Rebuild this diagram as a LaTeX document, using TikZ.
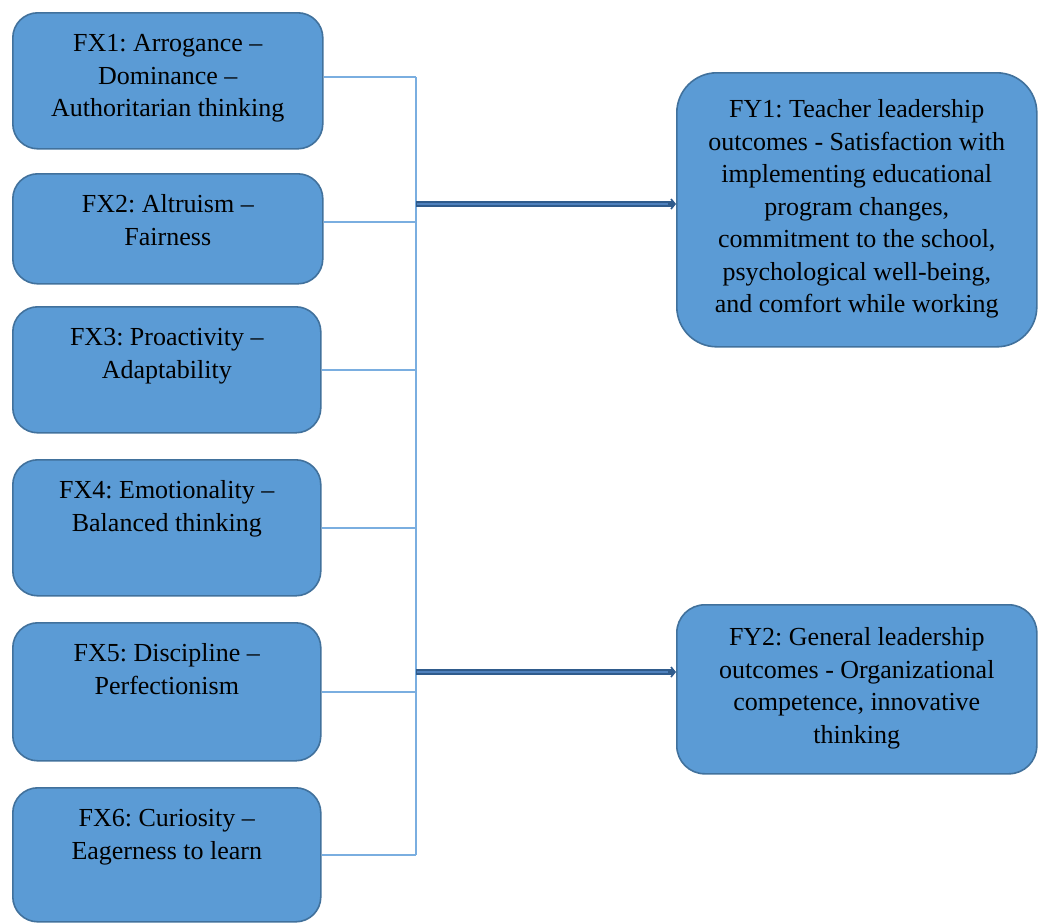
\documentclass[tikz,border=0pt]{standalone}
\usepackage{fontspec}
\setmainfont{Liberation Serif}
\frenchspacing
\usetikzlibrary{arrows.meta}
\definecolor{boxfill}{HTML}{5B9BD5}
\definecolor{boxline}{HTML}{41719C}
\definecolor{connline}{HTML}{7AAEE0}
\definecolor{arrdark}{HTML}{2F5B8C}
\definecolor{arrlight}{HTML}{4F81BD}
\newcommand{\boxcontent}[4]{\parbox[c][#2pt][t]{#1pt}{\centering\rule{0pt}{#3pt}#4\par}}
\tikzset{
  fbox/.style={draw=boxline, line width=1.6pt, fill=boxfill, rounded corners=25pt,
    inner sep=0pt, anchor=north west, font=\fontsize{26}{32.5}\selectfont, text=black},
  conn/.style={draw=connline, line width=1.4pt},
  bigarrow/.style={draw=arrdark, line width=6pt, -{Straight Barb[length=4pt,width=10pt,line width=1.6pt]}},
  bigarrowin/.style={draw=arrlight, line width=2.4pt}
}
\begin{document}
\begin{tikzpicture}[x=1pt,y=-1pt]
\useasboundingbox (0,0) rectangle (1038,922);
\node[fbox] (fx1) at (12,12) {\boxcontent{310}{136}{39}{FX1: Arrogance --\\Dominance --\\Authoritarian thinking}};
\node[fbox] (fx2) at (12,173) {\boxcontent{310}{110}{39}{FX2: Altruism --\\Fairness}};
\node[fbox] (fx3) at (12,306) {\boxcontent{308}{126}{39}{FX3: Proactivity --\\Adaptability}};
\node[fbox] (fx4) at (12,459) {\boxcontent{308}{136}{39}{FX4: Emotionality --\\Balanced thinking}};
\node[fbox] (fx5) at (12,622) {\boxcontent{308}{138}{39}{FX5: Discipline --\\Perfectionism}};
\node[fbox] (fx6) at (12,787) {\boxcontent{308}{134}{39}{FX6: Curiosity --\\Eagerness to learn}};
\node[fbox, rounded corners=40pt] (fy1) at (676,72) {\boxcontent{360}{274}{45}{FY1: Teacher leadership\\outcomes - Satisfaction with\\implementing educational\\program changes,\\commitment to the school,\\psychological well-being,\\and comfort while working}};
\node[fbox, rounded corners=28pt] (fy2) at (676,604) {\boxcontent{360}{169}{41}{FY2: General leadership\\outcomes - Organizational\\competence, innovative\\thinking}};
\coordinate (b1) at (416,77);
\coordinate (b2) at (416,222);
\coordinate (b3) at (416,370);
\coordinate (b4) at (416,528);
\coordinate (b5) at (416,692);
\coordinate (b6) at (416,855);
\coordinate (a1) at (416,204);
\coordinate (a2) at (416,672);
\draw[conn] (fx1.east |- b1) -- (b1);
\draw[conn] (fx2.east |- b2) -- (b2);
\draw[conn] (fx3.east |- b3) -- (b3);
\draw[conn] (fx4.east |- b4) -- (b4);
\draw[conn] (fx5.east |- b5) -- (b5);
\draw[conn] (fx6.east |- b6) -- (b6);
\draw[conn] (b1) -- (b6);
\draw[bigarrow] (a1) -- (fy1.west |- a1);
\draw[bigarrowin] ([xshift=1pt]a1) -- ([xshift=-8pt]fy1.west |- a1);
\draw[bigarrow] (a2) -- (fy2.west |- a2);
\draw[bigarrowin] ([xshift=1pt]a2) -- ([xshift=-8pt]fy2.west |- a2);
\end{tikzpicture}
\end{document}
